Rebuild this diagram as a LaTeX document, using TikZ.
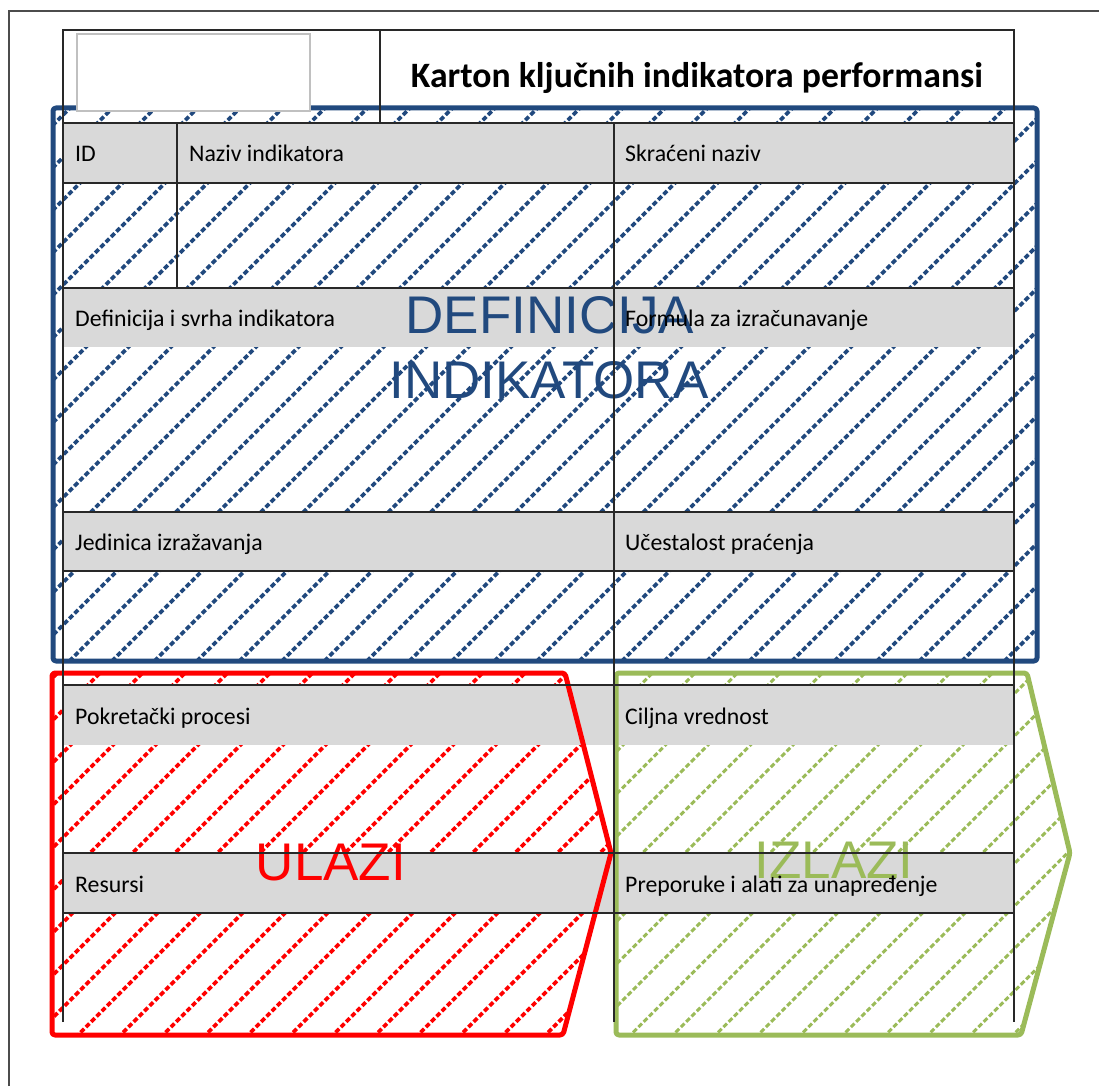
\documentclass[tikz,border=0pt]{standalone}
\usepackage{fontspec}
\setmainfont{Carlito}
\newfontfamily\arialf{Liberation Sans}
\definecolor{kblue}{RGB}{33,73,126}
\definecolor{kred}{RGB}{255,0,0}
\definecolor{kgreen}{RGB}{155,187,89}
\definecolor{rowgray}{RGB}{217,217,217}
\definecolor{tgray}{RGB}{40,40,40}
\definecolor{logogray}{RGB}{192,192,192}
\tikzset{
  tline/.style={draw=tgray, line width=1.3pt},
  grayrow/.style={fill=rowgray, draw=none},
  lbl/.style={anchor=base west, font=\fontsize{23.8}{24}\selectfont, text=black, inner sep=0pt},
  bigtxt/.style={anchor=base, font=\arialf\fontsize{53}{53}\selectfont, inner sep=0pt},
  hatchline/.style={line width=3.6pt, dash pattern=on 5pt off 2.5pt},
  frameline/.style={line width=5pt, line join=round, rounded corners=3pt}
}
\begin{document}
\begin{tikzpicture}[x=1pt,y=-1pt]
\useasboundingbox (0,0) rectangle (1099,1086);
% outer page frame
\draw[draw=black!70, line width=1.5pt] (9,1086) -- (9,11) -- (1099,11);

% hatching blue
\begin{scope}
  \clip (53,108) rectangle (1037,661);
  \foreach \i in {0,...,52} {
    \draw[hatchline, kblue] ({8+\i*42.5},0) -- ++(-1100,1100);
  }
\end{scope}
% hatching red
\begin{scope}
  \clip (52,673) -- (565,673) -- (611,853) -- (563,1035) -- (52,1035) -- cycle;
  \foreach \i in {0,...,52} {
    \draw[hatchline, kred] ({8+\i*42.5},0) -- ++(-1100,1100);
  }
\end{scope}
% hatching green
\begin{scope}
  \clip (616,673) -- (1027,673) -- (1070,853) -- (1021,1035) -- (616,1035) -- cycle;
  \foreach \i in {0,...,52} {
    \draw[hatchline, kgreen, line width=3.1pt] ({8+\i*42.5},0) -- ++(-1100,1100);
  }
\end{scope}

% gray rows
\fill[grayrow] (63,123) rectangle (1014,183);
\fill[grayrow] (63,288) rectangle (1014,347);
\fill[grayrow] (63,512) rectangle (1014,571);
\fill[grayrow] (63,685) rectangle (1014,745);
\fill[grayrow] (63,853) rectangle (1014,913);

% big texts
\node[bigtxt, text=kblue] (def1) at (550,333) {DEFINICIJA};
\node[bigtxt, text=kblue] (def2) at (549,398) {INDIKATORA};
\node[bigtxt, text=kred] (ulazi) at (331,880) {ULAZI};
\node[bigtxt, text=kgreen] (izlazi) at (834,878) {IZLAZI};

% shape borders
\draw[frameline, kblue] (53,108) rectangle (1037,661);
\draw[frameline, kred] (52,673) -- (565,673) -- (611,853) -- (563,1035) -- (52,1035) -- cycle;
\draw[frameline, kgreen] (616,673) -- (1027,673) -- (1070,853) -- (1021,1035) -- (616,1035) -- cycle;

% table lines
\draw[tline] (63,1022) -- (63,30) -- (1014,30) -- (1014,1022);
\draw[tline] (380,30) -- (380,123);
\draw[tline] (63,123) -- (1014,123);
\draw[tline] (63,183) -- (1014,183);
\draw[tline] (63,288) -- (1014,288);
\draw[tline] (63,512) -- (1014,512);
\draw[tline] (63,571) -- (1014,571);
\draw[tline] (63,685) -- (1014,685);
\draw[tline] (63,853) -- (1014,853);
\draw[tline] (63,913) -- (1014,913);
\draw[tline] (177,123) -- (177,288);
\draw[tline] (614,123) -- (614,1022);

% logo box
\draw[draw=logogray, fill=white, line width=2pt] (77,34) rectangle (310,111);

% title
\node[anchor=base, inner sep=0pt, font=\bfseries\fontsize{35.7}{36}\selectfont] (title) at (697,88) {Karton ključnih indikatora performansi};

% labels
\node[lbl] (lid) at (75,162) {ID};
\node[lbl] (lnaziv) at (189,162) {Naziv indikatora};
\node[lbl] (lskr) at (625,162) {Skraćeni naziv};
\node[lbl] (ldef) at (75,326) {Definicija i svrha indikatora};
\node[lbl] (lform) at (625,326) {Formula za izračunavanje};
\node[lbl] (ljed) at (75,550) {Jedinica izražavanja};
\node[lbl] (lucest) at (625,550) {Učestalost praćenja};
\node[lbl] (lpokr) at (75,724) {Pokretački procesi};
\node[lbl] (lcilj) at (625,724) {Ciljna vrednost};
\node[lbl] (lres) at (75,892) {Resursi};
\node[lbl] (lprep) at (625,892) {Preporuke i alati za unapređenje};
\end{tikzpicture}
\end{document}
